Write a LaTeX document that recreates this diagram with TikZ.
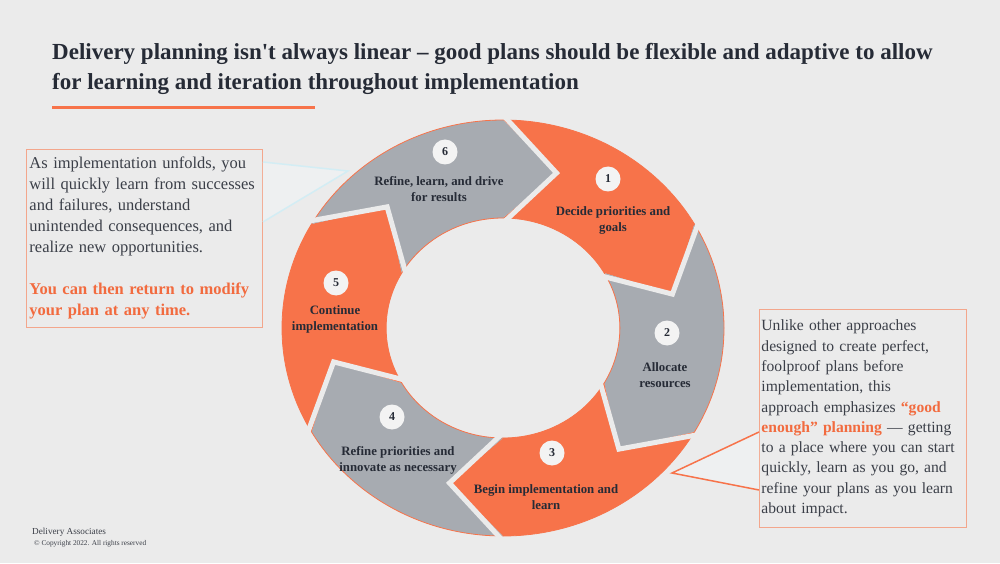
\documentclass[tikz,border=0pt]{standalone}
\usepackage{fontspec}
\setmainfont{Liberation Serif}
\usetikzlibrary{positioning, calc}

\definecolor{pagebg}{HTML}{EBEBEB}
\definecolor{ringorange}{HTML}{F7734A}
\definecolor{ringgrey}{HTML}{A7ABB1}
\definecolor{titleink}{HTML}{262B36}
\definecolor{bodyink}{HTML}{3B3F48}
\definecolor{accent}{HTML}{F26B3F}
\definecolor{boxline}{HTML}{F3A68C}
\definecolor{calloutcyan}{HTML}{D3EDF4}
\definecolor{calloutfill}{HTML}{EEF0F1}
\definecolor{dotfill}{HTML}{F3F3F3}

\begin{document}
\begin{tikzpicture}[
    x=1pt, y=1pt,
    note/.style={rectangle, draw=boxline, line width=0.9pt, anchor=north west, align=left,
        inner sep=3pt, text=bodyink, font=\fontsize{16.5}{21}\selectfont},
    gap/.style={draw=pagebg, line width=5pt, line join=miter},
    ringline/.style={draw=ringorange, line width=0.8pt},
    numdot/.style={circle, fill=dotfill, minimum size=25pt, inner sep=0pt,
        text=titleink, font=\fontsize{12}{12}\selectfont\bfseries},
    seglabel/.style={align=center, text=titleink, font=\fontsize{12.8}{16}\selectfont\bfseries},
    orangetext/.style={text=accent}
]
    \useasboundingbox[fill=pagebg] (0,0) rectangle (1000,563);

    % heading
    \node[anchor=north west, inner sep=0pt, align=left, text=titleink,
        font=\fontsize{23}{30}\selectfont\bfseries] (title) at (52,520)
        {Delivery planning isn\textquotesingle t always linear -- good plans should be flexible and adaptive to allow\\
         for learning and iteration throughout implementation};
    \draw[ringorange, line width=3pt] (52,455) -- (315,455);

    % side notes
    \node[note, text width=230pt, minimum width=236pt, minimum height=178pt] (leftnote) at (26,414)
        {As implementation unfolds, you\\
         will quickly learn from successes\\
         and failures, understand\\
         unintended consequences, and\\
         realize new opportunities.\\[21pt]
         \textcolor{accent}{\bfseries You can then return to modify}\\
         \textcolor{accent}{\bfseries your plan at any time.}};
    \node[note, text width=203pt, inner sep=2pt, minimum width=207pt, minimum height=218pt,
        font=\fontsize{15.6}{20.3}\selectfont] (rightnote) at (759,254)
        {Unlike other approaches\\
         designed to create perfect,\\
         foolproof plans before\\
         implementation, this\\
         approach emphasizes \textcolor{accent}{\bfseries “good}\\
         \textcolor{accent}{\bfseries enough” planning} — getting\\
         to a place where you can start\\
         quickly, learn as you go, and\\
         refine your plans as you learn\\
         about impact.\\[4pt]};

    % callouts
    \coordinate (tipsix) at (348,392);
    \coordinate (tipthree) at (672,90);
    \fill[calloutfill] ($(leftnote.north east)+(0,-13)$) -- (tipsix) -- ($(leftnote.north east)+(0,-73)$) -- cycle;
    \draw[calloutcyan, line width=1.5pt] ($(leftnote.north east)+(0,-13)$) -- (tipsix) -- ($(leftnote.north east)+(0,-73)$);
    \fill[calloutfill] ($(rightnote.north west)+(0,-123)$) -- (tipthree) -- ($(rightnote.north west)+(0,-181)$) -- cycle;
    \draw[ringorange, line width=1.5pt] ($(rightnote.north west)+(0,-123)$) -- (tipthree) -- ($(rightnote.north west)+(0,-181)$);

    % cycle ring
    \begin{scope}[shift={(503,235)}, xscale=1.0625]
        \foreach \s/\c in {90/ringorange, 30/ringgrey, -30/ringorange, -90/ringgrey, -150/ringorange, 150/ringgrey}
            \fill[\c] (\s:208) arc[start angle=\s, end angle=\s-60, radius=208]
                -- (\s-78:163) -- (\s-60:110) arc[start angle=\s-60, end angle=\s, radius=110]
                -- (\s-18:163) -- cycle;
        \draw[ringline] (0,0) circle[radius=208];
        \draw[ringline] (0,0) circle[radius=110];
        \foreach \s in {90, 30, -30, -90, -150, 150}
            \draw[gap] (\s:213) -- (\s-18:163) -- (\s:105);
    \end{scope}

    % step numbers
    \node[numdot] (num1) at (608,384) {1};
    \node[numdot] (num2) at (667,230) {2};
    \node[numdot] (num3) at (552,110) {3};
    \node[numdot] (num4) at (392,146) {4};
    \node[numdot] (num5) at (336,280) {5};
    \node[numdot] (num6) at (445,411) {6};

    % step labels
    \node[seglabel] (step1) at (613,343) {Decide priorities and\\goals};
    \node[seglabel] (step2) at (665,188) {Allocate\\resources};
    \node[seglabel] (step3) at (546,66) {Begin implementation and\\learn};
    \node[seglabel] (step4) at (398,103) {Refine priorities and\\innovate as necessary};
    \node[seglabel] (step5) at (335,244) {Continue\\implementation};
    \node[seglabel] (step6) at (439,374) {Refine, learn, and drive\\for results};

    % footer
    \node[anchor=base west, inner sep=0pt, text=bodyink, font=\fontsize{9.2}{10}\selectfont] (brand) at (32,29) {Delivery Associates};
    \node[anchor=base west, inner sep=0pt, text=bodyink, font=\fontsize{7.3}{8}\selectfont] (copy) at (34,18) {© Copyright 2022. All rights reserved};
\end{tikzpicture}
\end{document}
